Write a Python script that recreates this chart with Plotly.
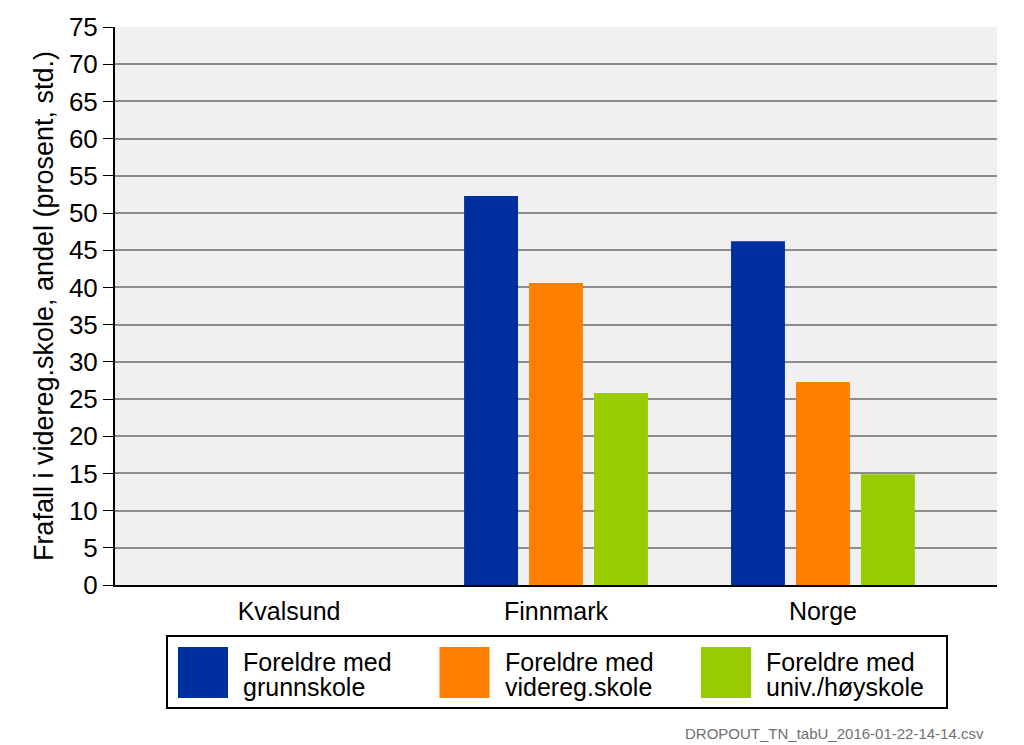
import plotly.graph_objects as go

categories = ['Kvalsund', 'Finnmark', 'Norge']
series_lines = [('Foreldre med', 'grunnskole'), ('Foreldre med', 'videreg.skole'), ('Foreldre med', 'univ./høyskole')]
grunnskole = [None, 52.3, 46.2]
videreg = [None, 40.6, 27.3]
hoyskole = [None, 25.8, 14.9]
colors = ['#0030a0', '#ff8000', '#99cc00']
y_ticks = list(range(0, 80, 5))

W, H = 1024, 745
L, R, T, B = 115, 27, 27, 160
FONT = 'Liberation Sans, Arial, sans-serif'


def px(x):
    return (x - L) / (W - L - R)


def py(y):
    return 1 - (y - T) / (H - T - B)


fig = go.Figure()
for lines, vals, col in zip(series_lines, [grunnskole, videreg, hoyskole], colors):
    fig.add_trace(go.Bar(x=categories, y=vals, name=' '.join(lines), marker_color=col, marker_line_width=0))

fig.update_layout(
    width=W, height=H,
    margin=dict(l=L, r=R, t=T, b=B, pad=0),
    paper_bgcolor='white', plot_bgcolor='#f0f0f0',
    barmode='group', bargap=0.27, bargroupgap=0.17,
    showlegend=False,
    font=dict(family=FONT, color='black'),
)
fig.update_xaxes(range=[-0.652, 2.652], showline=True, linecolor='black', linewidth=2,
                 tickfont=dict(size=25), ticks='', showgrid=False, ticklabelstandoff=3)
fig.update_yaxes(range=[0, 75], tickvals=y_ticks, showline=True, linecolor='black', linewidth=2,
                 ticks='outside', ticklen=10, tickcolor='black', tickwidth=1,
                 tickfont=dict(size=26), gridcolor='#8c8c8c', gridwidth=2, zeroline=False,
                 title=dict(text='Frafall i videreg.skole, andel (prosent, std.)', font=dict(size=27), standoff=7))

# legend box drawn by hand to get the large swatches
fig.add_shape(type='rect', xref='paper', yref='paper', x0=px(167), x1=px(947), y0=py(636), y1=py(708),
              line=dict(color='black', width=2), fillcolor='white')
for i, (lines, col) in enumerate(zip(series_lines, colors)):
    sx = 178 + i * 261.5
    fig.add_shape(type='rect', xref='paper', yref='paper', x0=px(sx), x1=px(sx + 50), y0=py(647), y1=py(698),
                  line=dict(width=0), fillcolor=col)
    for j, line in enumerate(lines):
        fig.add_annotation(xref='paper', yref='paper', x=px(sx + 63), y=py(662 + 25 * j), text=line,
                           showarrow=False, xanchor='left', yanchor='middle', align='left',
                           font=dict(size=25, color='black'))

fig.add_annotation(xref='paper', yref='paper', x=px(986), y=py(733), text='DROPOUT_TN_tabU_2016-01-22-14-14.csv',
                   showarrow=False, xanchor='right', yanchor='middle', font=dict(size=15, color='#707070'))

fig.write_html('out.html', config={'displayModeBar': False})

# drop the default page margin so the figure sits at the window's corner
with open('out.html', encoding='utf-8') as f:
    html = f.read()
html = html.replace('<head>', '<head><style>body{margin:0;overflow:hidden}</style>', 1)
with open('out.html', 'w', encoding='utf-8') as f:
    f.write(html)
